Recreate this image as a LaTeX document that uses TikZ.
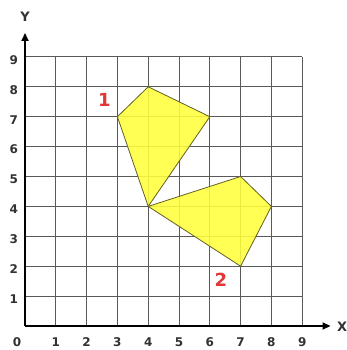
\documentclass[tikz,border=0pt]{standalone}
\usepackage{fontspec}
\setmainfont{DejaVu Sans}
\usetikzlibrary{arrows.meta}
\definecolor{shapeyellow}{RGB}{255,255,60}
\definecolor{shapeedge}{RGB}{100,95,35}
\definecolor{labelred}{RGB}{225,55,55}
\definecolor{ticktext}{RGB}{50,50,50}
\tikzset{
  gridline/.style={draw=black!65, line width=0.9pt},
  axisline/.style={draw=black, line width=1.8pt, -{Triangle[length=8pt,width=7pt]}},
  ticklabel/.style={font=\bfseries\fontsize{12}{12}\selectfont, text=ticktext, inner sep=0pt},
  axislabel/.style={font=\bfseries\fontsize{13}{13}\selectfont, text=ticktext, inner sep=0pt},
  shapefill/.style={fill=shapeyellow, fill opacity=0.88, draw=shapeedge, line width=0.8pt, line join=round},
  shapelabel/.style={font=\bfseries\fontsize{18}{18}\selectfont, text=labelred, inner sep=0pt}
}
\begin{document}
\begin{tikzpicture}[x=30.8pt, y=29.9pt]
\useasboundingbox (-25pt,-24pt) rectangle ++(346pt,350pt);
% grid
\foreach \i in {1,...,9} {
  \draw[gridline] (\i,0) -- (\i,9);
  \draw[gridline] (0,\i) -- (9,\i);
}
% shapes
\coordinate (a1) at (3,7);
\coordinate (a2) at (4,8);
\coordinate (a3) at (6,7);
\coordinate (a4) at (4,4);
\coordinate (b1) at (4,4);
\coordinate (b2) at (7,5);
\coordinate (b3) at (8,4);
\coordinate (b4) at (7,2);
\filldraw[shapefill] (a1) -- (a2) -- (a3) -- (a4) -- cycle;
\filldraw[shapefill] (b1) -- (b2) -- (b3) -- (b4) -- cycle;
% axes
\coordinate (origin) at (0,0);
\coordinate (xend) at (9.92,0);
\coordinate (yend) at (0,9.8);
\draw[axisline] (origin) -- (xend);
\draw[axisline] (origin) -- (yend);
% tick labels
\node[ticklabel] (x0) at (-0.26,-0.535) {0};
\foreach \i in {1,...,9} {
  \node[ticklabel] (x\i) at (\i,-0.535) {\i};
  \node[ticklabel] (y\i) at (-0.36,\i-0.1) {\i};
}
\node[axislabel] (ylab) at (0,10.33) {Y};
\node[axislabel] (xlab) at (10.3,-0.03) {X};
% shape labels
\node[shapelabel] (lab1) at (2.58,7.55) {1};
\node[shapelabel] (lab2) at (6.36,1.53) {2};
\end{tikzpicture}
\end{document}
